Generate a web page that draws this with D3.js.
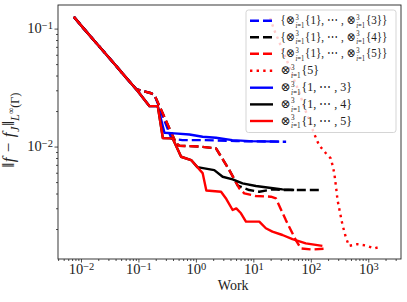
<!DOCTYPE html>
<html>
<head>
<meta charset="utf-8">
<script src="https://cdn.jsdelivr.net/npm/d3@7"></script>
<style>
body { margin: 0; background: #fff; }
text { font-family: "Liberation Serif", "DejaVu Serif", serif; fill: #222; }
</style>
</head>
<body>
<svg id="chart" width="407" height="302"></svg>
<script>
// values (work, error)
var startWork = [0.0075, 0.0111, 0.0166, 0.0248, 0.037, 0.0551, 0.073, 0.0917]
var startErr = [0.126, 0.1004, 0.080, 0.064, 0.0511, 0.0407, 0.0347, 0.0306]

var blueDashedWork = startWork.concat([0.1667, 0.1906, 0.376, 0.583, 1.30, 5.05, 37.2])
var blueDashedErr = startErr.concat([0.0283, 0.0273, 0.01169, 0.01135, 0.01135, 0.01113, 0.01099])

var blackDashedWork = startWork.concat([0.1667, 0.1906, 0.453, 0.518, 1.15, 2.24, 3.82, 5.36, 8.49, 12.7, 21.5, 37.2, 149])
var blackDashedErr = startErr.concat([0.0283, 0.0273, 0.01064, 0.01016, 0.0100, 0.00966, 0.00632, 0.00467, 0.00428, 0.00414, 0.00434, 0.00428, 0.00428])

var redDashedWork = startWork.concat([0.1667, 0.1906, 0.453, 0.518, 1.15, 2.24, 3.82, 5.69, 6.95, 11.1, 20.2, 24.7, 36.8, 54.9, 67.0, 107, 194])
var redDashedErr = startErr.concat([0.0283, 0.0273, 0.01064, 0.01016, 0.0100, 0.00966, 0.00632, 0.00442, 0.00401, 0.00381, 0.00376, 0.00364, 0.00238, 0.00161, 0.00137, 0.00134, 0.00137])

var redDottedWork = [19.6, 23.1, 28.2, 36.8, 45.0, 51.3, 62.7, 76.5, 93.4, 114, 139, 182, 222, 244, 259, 275, 292, 316, 354, 406, 462, 644, 902, 1256, 1710]
var redDottedErr = [0.1228, 0.097, 0.0773, 0.0562, 0.0445, 0.0366, 0.0291, 0.0217, 0.0168, 0.0129, 0.0103, 0.00881, 0.00794, 0.0067, 0.00573, 0.00454, 0.00352, 0.0029, 0.0022, 0.00171, 0.00144, 0.00149, 0.00145, 0.00137, 0.00142]

var blueWork = startWork.concat([0.156, 0.217, 0.284, 0.424, 0.771, 1.31, 2.24, 4.30, 8.49, 28.2])
var blueErr = startErr.concat([0.0220, 0.0220, 0.0131, 0.01294, 0.01267, 0.01211, 0.01187, 0.01135, 0.01113, 0.01102])

var blackWork = startWork.concat([0.156, 0.217, 0.266, 0.395, 0.553, 0.826, 1.06, 2.09, 2.92, 4.36, 6.49, 11.1, 18.9, 32.1, 51.3])
var blackErr = startErr.concat([0.022, 0.022, 0.0118, 0.01173, 0.0082, 0.00769, 0.0067, 0.00632, 0.00555, 0.00527, 0.00488, 0.00463, 0.00448, 0.00434, 0.00428])

var redWork = startWork.concat([0.156, 0.217, 0.266, 0.395, 0.553, 0.826, 1.31, 1.52, 2.74, 3.39, 4.36, 5.05, 6.09, 7.44, 12.7, 16.5, 21.5, 32.1, 47.9, 81.9, 159])
var redErr = startErr.concat([0.0220, 0.0220, 0.0118, 0.01173, 0.0082, 0.00769, 0.00596, 0.00424, 0.00414, 0.00359, 0.0029, 0.00299, 0.00272, 0.00231, 0.00231, 0.00203, 0.0019, 0.00178, 0.00164, 0.00151, 0.00144])

var xMajor = [0.01, 0.1, 1, 10, 100, 1000]
var xMajorExp = ['−2', '−1', '0', '1', '2', '3']
var yMajor = [0.01, 0.1]
var yMajorExp = ['−2', '−1']

var series = [
	{ work: blueDashedWork, err: blueDashedErr, color: '#0000ff', dash: '9,4', label: 'set3' },
	{ work: blackDashedWork, err: blackDashedErr, color: '#000000', dash: '9,4', label: 'set4' },
	{ work: redDashedWork, err: redDashedErr, color: '#ff0000', dash: '9,4', label: 'set5' },
	{ work: redDottedWork, err: redDottedErr, color: '#ff0000', dash: '2.4,4.2', label: 'single5' },
	{ work: blueWork, err: blueErr, color: '#0000ff', dash: null, label: 'tot3' },
	{ work: blackWork, err: blackErr, color: '#000000', dash: null, label: 'tot4' },
	{ work: redWork, err: redErr, color: '#ff0000', dash: null, label: 'tot5' }
]

var svg = d3.select('#chart'),
	margin = { top: 5, right: 6, bottom: 43, left: 58 },
	width = 407 - margin.left - margin.right,
	height = 302 - margin.top - margin.bottom;

var x = d3.scaleLog().domain([Math.pow(10, -2.40), Math.pow(10, 3.57)]).range([0, width])
var y = d3.scaleLog().domain([Math.pow(10, -2.953), Math.pow(10, -0.80)]).range([height, 0])

function minorTicks(scale) {
	var dom = scale.domain(), out = []
	for (var e = -4; e <= 4; e++) {
		for (var m = 2; m <= 9; m++) {
			var v = m * Math.pow(10, e)
			if (v > dom[0] && v < dom[1]) out.push(v)
		}
	}
	return out
}

// writes math into one text element as tspans (off = baseline shift in em, s = size factor)
function mathText(text, parts, size) {
	var cur = 0
	function piece(str, off, sc, italic, dx) {
		var sp = text.append('tspan')
			.attr('dy', off - cur)
			.style('font-size', (size * sc) + 'px')
			.style('font-style', italic ? 'italic' : 'normal')
			.text(str)
		if (dx) sp.attr('dx', dx)
		cur = off
		return sp
	}
	parts.forEach(function (p) {
		if (p.op) {
			piece('⊗', 0, 1, false, 0)
			var sup = piece('3', -size * 0.37, 0.6, false, 0.4)
			var w = sup.node().getComputedTextLength()
			var sub = piece('', size * 0.3, 0.6, false, -w)
			sub.append('tspan').style('font-style', 'italic').text('i')
			sub.append('tspan').text('=1')
		} else {
			piece(p.t, (p.dy || 0) * size, p.s || 1, p.i, p.dx || 0)
		}
	})
	return text.node().getComputedTextLength()
}

var OP = { op: true }
var legendParts = {
	set3: [{ t: '{' }, OP, { t: '{1}, ⋯ , ', dx: 0.8 }, OP, { t: '{3}}', dx: 0.8 }],
	set4: [{ t: '{' }, OP, { t: '{1}, ⋯ , ', dx: 0.8 }, OP, { t: '{4}}', dx: 0.8 }],
	set5: [{ t: '{' }, OP, { t: '{1}, ⋯ , ', dx: 0.8 }, OP, { t: '{5}}', dx: 0.8 }],
	single5: [OP, { t: '{5}', dx: 0.8 }],
	tot3: [OP, { t: '{1, ⋯ , 3}', dx: 0.8 }],
	tot4: [OP, { t: '{1, ⋯ , 4}', dx: 0.8 }],
	tot5: [OP, { t: '{1, ⋯ , 5}', dx: 0.8 }]
}

var g = svg.append('g').attr('transform', 'translate(' + margin.left + ',' + margin.top + ')')

// axes
var xAxis = g.append('g').attr('class', 'x axis').attr('transform', 'translate(0,' + height + ')')
	.call(d3.axisBottom(x).tickValues(xMajor).tickSize(3.5).tickSizeOuter(0).tickPadding(1.5).tickFormat(function () { return '10' }))
g.append('g').attr('transform', 'translate(0,' + height + ')')
	.call(d3.axisBottom(x).tickValues(minorTicks(x)).tickSize(2).tickSizeOuter(0).tickFormat(''))
var yAxis = g.append('g').attr('class', 'y axis')
	.call(d3.axisLeft(y).tickValues(yMajor).tickSize(3.5).tickSizeOuter(0).tickPadding(1.5).tickFormat(function () { return '10' }))
g.append('g')
	.call(d3.axisLeft(y).tickValues(minorTicks(y)).tickSize(2).tickSizeOuter(0).tickFormat(''))

g.selectAll('.domain').remove()
g.selectAll('.tick line').attr('stroke', '#222').attr('stroke-width', 0.8)

xAxis.selectAll('.tick text').style('font-size', '14.5px').attr('dy', '0.72em')
	.each(function (d, i) {
		d3.select(this).append('tspan').attr('dy', '-0.45em').style('font-size', '10.5px').text(xMajorExp[i])
	})
yAxis.selectAll('.tick text').style('font-size', '14.5px').attr('dy', '0.3em')
	.each(function (d, i) {
		d3.select(this).append('tspan').attr('dy', '-0.45em').style('font-size', '10.5px').text(yMajorExp[i])
	})

// lines
var line = d3.line()
	.x(function (d) { return x(d[0]) })
	.y(function (d) { return y(d[1]) })

var clip = svg.append('clipPath').attr('id', 'plotclip')
clip.append('rect').attr('width', width).attr('height', height)

g.append('g').attr('clip-path', 'url(#plotclip)')
	.selectAll('.series')
	.data(series)
	.enter()
	.append('path')
	.attr('class', 'series')
	.attr('d', function (s) {
		return line(s.work.map(function (w, i) { return [w, s.err[i]] }))
	})
	.attr('fill', 'none')
	.attr('stroke', function (s) { return s.color })
	.attr('stroke-width', 2.4)
	.attr('stroke-dasharray', function (s) { return s.dash })
	.attr('stroke-linejoin', 'round')

// frame
g.append('rect').attr('width', width).attr('height', height)
	.attr('fill', 'none').attr('stroke', '#222').attr('stroke-width', 0.9)

// legend
var rowY = [20.7, 37.2, 53.7, 70.7, 87.7, 104.4, 121]
var legend = svg.append('g')
legend.append('rect')
	.attr('x', 246).attr('y', 10).attr('width', 150).attr('height', 122.5)
	.attr('rx', 2.5).attr('fill', '#fff').attr('fill-opacity', 0.8)
	.attr('stroke', '#d0d0d0').attr('stroke-width', 0.9)

series.forEach(function (s, i) {
	legend.append('line')
		.attr('x1', 250).attr('x2', 273).attr('y1', rowY[i]).attr('y2', rowY[i])
		.attr('stroke', s.color).attr('stroke-width', 2.4)
		.attr('stroke-dasharray', s.dash)
	var lg = legend.append('g').attr('transform', 'translate(280.5,' + (rowY[i] + 3.5) + ')')
	var w = mathText(lg.append('text').attr('x', 0).attr('y', 0), legendParts[s.label], 12)
	if (w > 111) lg.attr('transform', 'translate(280.5,' + (rowY[i] + 3.5) + ') scale(' + (111 / w) + ',1)')
})

// axis titles
svg.append('text')
	.attr('x', margin.left + x(Math.pow(10, 0.65))).attr('y', 290)
	.attr('text-anchor', 'middle').style('font-size', '14px')
	.text('Work')

var yl = svg.append('g').attr('transform', 'translate(14,132) rotate(-90)')
var ylText = yl.append('text').attr('x', 0).attr('y', 0)
var ylWidth = mathText(ylText, [
	{ t: '‖' }, { t: 'f', i: true, dx: 0.5 }, { t: ' − ', dx: 1 }, { t: 'f', i: true, dx: 1 },
	{ t: 'J', i: true, s: 0.72, dy: 0.28, dx: 0.5 }, { t: '‖', dx: 1 },
	{ t: 'L', i: true, s: 0.72, dy: 0.3 }, { t: '∞', s: 0.52, dy: 0.02 }, { t: '(Γ)', s: 0.72, dy: 0.3 }
], 17)
ylText.attr('x', -ylWidth / 2)
</script>
</body>
</html>
